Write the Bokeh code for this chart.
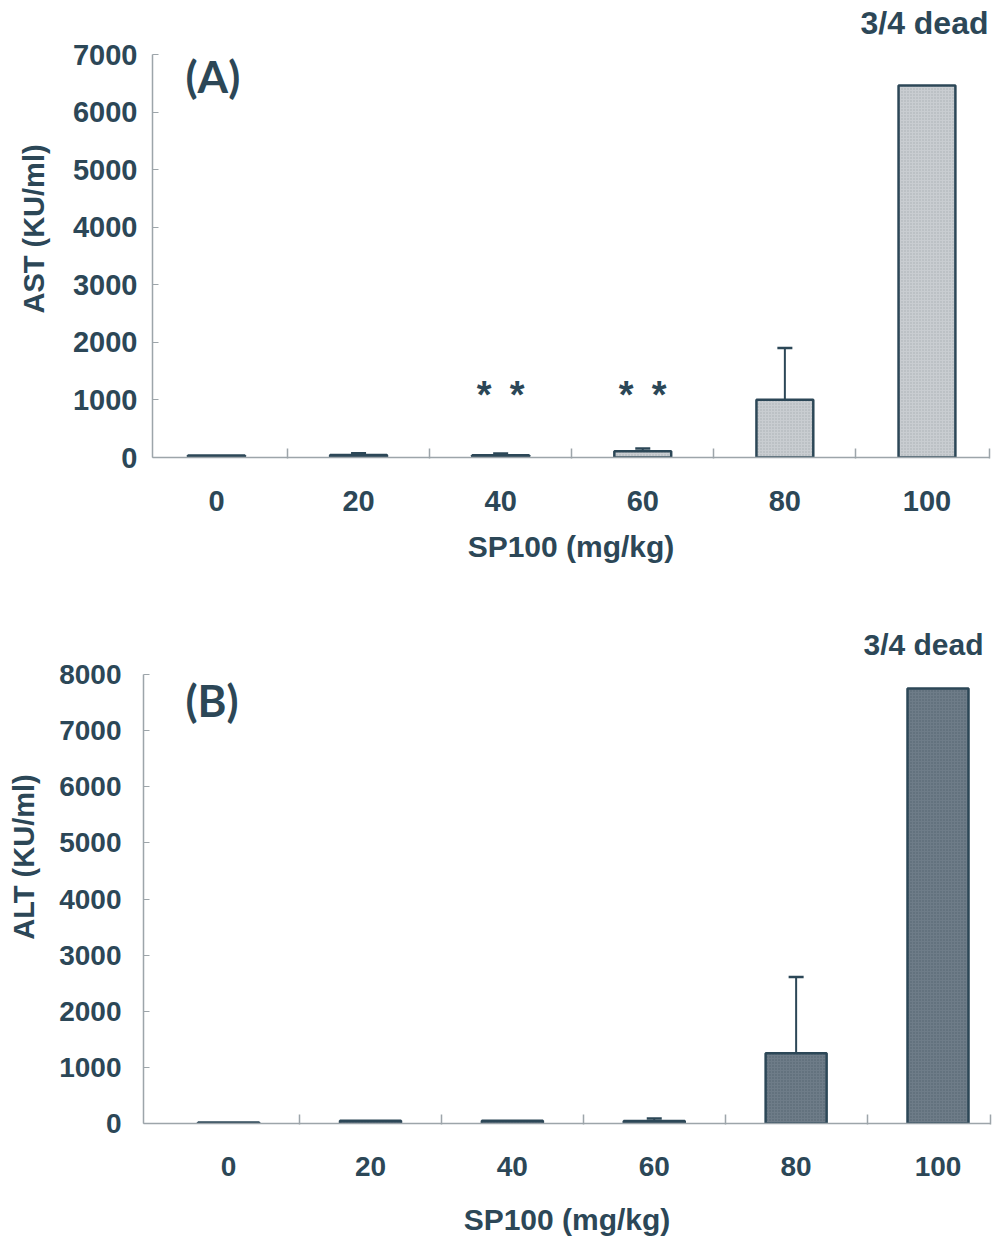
from bokeh.plotting import figure
from bokeh.layouts import column, row
from bokeh.models import ColumnDataSource, FixedTicker, Range1d, Whisker, TeeHead, Label
from bokeh.core.properties import value
from bokeh.embed import file_html
from bokeh.resources import INLINE

# SP100 dose groups (mg/kg)
doses = ["0", "20", "40", "60", "80", "100"]

# (A) serum AST, KU/ml: group means and upper SD
ast_mean = [35, 45, 40, 110, 1005, 6460]
ast_sd = [0, 30, 30, 45, 895, 0]
ast_stars = [0, 0, 2, 2, 0, 0]
ast_ticks = [0, 1000, 2000, 3000, 4000, 5000, 6000, 7000]

# (B) serum ALT, KU/ml: group means and upper SD
alt_mean = [20, 50, 50, 45, 1250, 7750]
alt_sd = [0, 0, 0, 45, 1360, 0]
alt_ticks = [0, 1000, 2000, 3000, 4000, 5000, 6000, 7000, 8000]

dead_note = "3/4 dead"

INK = "#2c4757"
AXIS = "#9da5aa"
FONT = "Liberation Sans"


def make_panel(mean, sd, stars, yticks, ylabel, tag, fill, hatch_col,
               x_start, x_end, bar_w, height, axis_top, bottom, left, right,
               tick_size, ylab_standoff, xlab_standoff, tick_standoff_y,
               tag_dx, tag_dy, note_size, note_dx, note_dy):
    pos = list(range(len(doses)))
    ymax = yticks[-1]
    # frame reaches the top of the canvas; the axis itself stops at ymax
    plot_h = height - bottom
    y_end = ymax * plot_h / (plot_h - axis_top)
    p = figure(width=992, height=height, output_backend="svg",
               toolbar_location=None, tools="",
               x_range=Range1d(x_start, x_end),
               y_range=Range1d(yticks[0], y_end),
               min_border_left=left, min_border_right=right,
               min_border_top=0, min_border_bottom=bottom)
    p.outline_line_color = None
    p.background_fill_color = "white"
    p.border_fill_color = "white"
    p.xgrid.visible = False
    p.ygrid.visible = False

    src = ColumnDataSource(dict(x=pos, top=mean))
    p.vbar(x="x", top="top", bottom=0, width=bar_w, source=src,
           fill_color=fill, line_color=INK, line_width=2.5,
           hatch_pattern="dot", hatch_color=hatch_col, hatch_scale=3,
           hatch_weight=1, hatch_alpha=0.45)

    # upper error bars only where an SD exists
    ex = [x for x, s in zip(pos, sd) if s > 0]
    elo = [m for m, s in zip(mean, sd) if s > 0]
    ehi = [m + s for m, s in zip(mean, sd) if s > 0]
    esrc = ColumnDataSource(dict(x=ex, lower=elo, upper=ehi))
    p.add_layout(Whisker(source=esrc, base="x", lower="lower", upper="upper",
                         dimension="height", line_color=INK, line_width=2,
                         lower_head=None,
                         upper_head=TeeHead(size=15, line_color=INK,
                                            line_width=2.5)))

    # significance asterisks, one glyph per star, spread around the group
    if stars is not None:
        sx, sdx = [], []
        for x, n in zip(pos, stars):
            for k in range(n):
                sx.append(x)
                sdx.append((k - (n - 1) / 2) * 33)
        p.text(x=sx, y=[1080] * len(sx), text=["*"] * len(sx),
               x_offset=sdx, text_align="center", text_baseline="middle",
               text_font=value(FONT), text_font_style="bold",
               text_font_size="38px", text_color=INK)

    # panel tag
    p.add_layout(Label(x=x_start, y=ymax, x_offset=tag_dx, y_offset=tag_dy,
                       text=tag, text_font="Lato", text_font_style="bold",
                       text_font_size="44px", text_color=INK,
                       text_baseline="middle"))

    # mortality note above the top-dose bar
    p.add_layout(Label(x=x_end, y=ymax, x_offset=note_dx,
                       y_offset=note_dy, text=dead_note, text_font=FONT,
                       text_font_style="bold", text_font_size=note_size,
                       text_color=INK, text_align="right",
                       text_baseline="middle"))

    # y axis
    ya = p.yaxis[0]
    ya.ticker = FixedTicker(ticks=yticks)
    ya.bounds = (yticks[0], ymax)
    ya.axis_line_color = AXIS
    ya.axis_line_width = 1.5
    ya.major_tick_line_color = AXIS
    ya.major_tick_in = 6
    ya.major_tick_out = 0
    ya.minor_tick_line_color = None
    ya.major_label_text_font = FONT
    ya.major_label_text_font_style = "bold"
    ya.major_label_text_font_size = tick_size
    ya.major_label_text_color = INK
    ya.major_label_standoff = tick_standoff_y
    ya.axis_label = ylabel
    ya.axis_label_text_font = FONT
    ya.axis_label_text_font_style = "bold"
    ya.axis_label_text_font_size = "29px"
    ya.axis_label_text_color = INK
    ya.axis_label_standoff = ylab_standoff

    # x axis: labels under each group, small ticks between groups
    xa = p.xaxis[0]
    bounds = [i + 0.5 for i in pos[:-1]] + [x_end]
    xa.ticker = FixedTicker(ticks=pos, minor_ticks=bounds)
    xa.major_label_overrides = {i: d for i, d in enumerate(doses)}
    xa.axis_line_color = AXIS
    xa.axis_line_width = 1.5
    xa.major_tick_line_color = None
    xa.major_tick_in = 0
    xa.major_tick_out = 0
    xa.minor_tick_line_color = AXIS
    xa.minor_tick_line_width = 1.5
    xa.minor_tick_in = 9
    xa.minor_tick_out = 1
    xa.major_label_text_font = FONT
    xa.major_label_text_font_style = "bold"
    xa.major_label_text_font_size = tick_size
    xa.major_label_text_color = INK
    xa.major_label_standoff = 32
    xa.axis_label = "SP100 (mg/kg)"
    xa.axis_label_text_font = FONT
    xa.axis_label_text_font_style = "bold"
    xa.axis_label_text_font_size = "30px"
    xa.axis_label_text_color = INK
    xa.axis_label_standoff = xlab_standoff
    return p


pa = make_panel(ast_mean, ast_sd, ast_stars, ast_ticks, "AST (KU/ml)", "(A)",
                "#c9cdd1", "#7d8890", -0.45, 5.44, 0.40,
                590, 54, 133, 152, 3, "29px", 20, 16, 15,
                33, -21, "32px", -1, 32)
pb = make_panel(alt_mean, alt_sd, None, alt_ticks, "ALT (KU/ml)", "(B)",
                "#6e7c88", "#2f4352", -0.60, 5.37, 0.43,
                655, 84, 122, 143, 2, "28px", 16, 24, 22,
                42, -25, "30px", -7, 30)

# each panel sits in its own row so the two frames keep their own offsets
layout = column(row(pa), row(pb))
open("out.html", "w").write(file_html(layout, INLINE))
